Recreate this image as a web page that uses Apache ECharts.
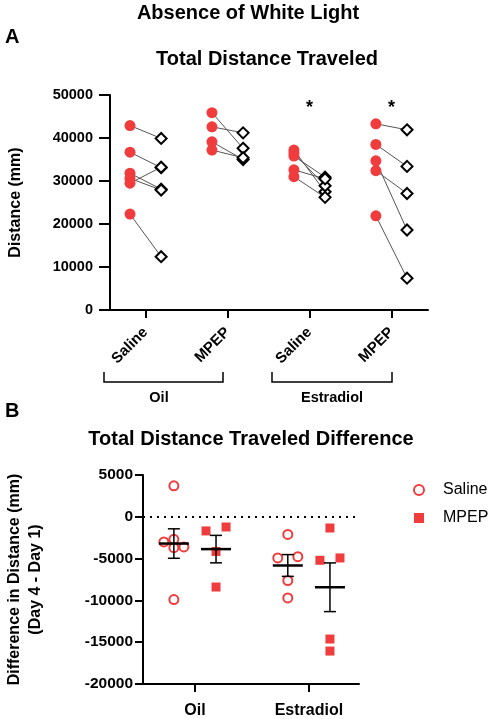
<!DOCTYPE html>
<html><head><meta charset="utf-8">
<script src="https://cdn.jsdelivr.net/npm/echarts@6/dist/echarts.min.js"></script>
<style>html,body{margin:0;padding:0;background:#fff}#c{width:496px;height:719px}</style>
</head><body><div id="c"></div>
<script>
// ---------- data ----------
const groupLabels = ['Saline', 'MPEP', 'Saline', 'MPEP'];
const treatments = ['Oil', 'Estradiol'];
const significance = ['', '', '*', '*'];
const yTicksTop = [0, 10000, 20000, 30000, 40000, 50000];
const yTicksBottom = [-20000, -15000, -10000, -5000, 0, 5000];

// Panel A: distance (mm), Day 1 (red dots) and Day 4 (diamonds), paired by index
const day1 = [
  [42900, 36700, 31800, 30600, 29500, 22300],
  [45900, 42600, 39100, 37200],
  [37200, 36500, 35800, 32600, 31000],
  [43300, 38500, 34700, 32400, 21900]
];
const day4 = [
  [39900, 33100, 28100, 27900, 33200, 12400],
  [37600, 41200, 35000, 35400],
  [27500, 28900, 30900, 30500, 26200],
  [41900, 33400, 18600, 27100, 7400]
];

// Panel B: difference (Day 4 - Day 1), per treatment
const diffSaline = [
  [-3000, -3600, -3700, -2700, 3700, -9900],
  [-2110, -4920, -4770, -7620, -9700]
];
const diffMPEP = [
  [-1690, -1220, -4150, -8400],
  [-1340, -5200, -4920, -14620, -16060]
];
// horizontal scatter jitter (category units)
const jitterSaline = [[-0.088, 0.088, 0, 0, 0, 0], [0, -0.088, 0.088, 0, 0]];
const jitterMPEP = [[-0.088, 0.088, 0, 0], [0, -0.088, 0.088, 0, 0]];

// ---------- styling ----------
const FONT = '"Liberation Sans", Arial, sans-serif';
const RED = '#f03c3c';
const PAIR_OFF = 0.19;
const GROUP_OFF = 0.185;

function meanSem(arr) {
  const n = arr.length;
  const m = arr.reduce((a, b) => a + b, 0) / n;
  const sd = Math.sqrt(arr.reduce((a, b) => a + (b - m) * (b - m), 0) / (n - 1));
  return [m, sd / Math.sqrt(n)];
}

const series = [];
// pair lines
day1.forEach((g, gi) => {
  g.forEach((v, k) => {
    series.push({
      type: 'line', xAxisIndex: 0, yAxisIndex: 0, silent: true, z: 1,
      symbol: 'none', animation: false,
      lineStyle: { color: '#555', width: 1 },
      data: [[gi - PAIR_OFF, v], [gi + PAIR_OFF, day4[gi][k]]]
    });
  });
});
series.push({
  name: 'Day 1', type: 'scatter', xAxisIndex: 0, yAxisIndex: 0, z: 3,
  symbol: 'circle', symbolSize: 11, itemStyle: { color: RED, opacity: 1 },
  data: day1.flatMap((g, gi) => g.map(v => [gi - PAIR_OFF, v]))
});
series.push({
  name: 'Day 4', type: 'scatter', xAxisIndex: 0, yAxisIndex: 0, z: 4,
  symbol: 'diamond', symbolSize: 11,
  itemStyle: { color: '#fff', borderColor: '#000', borderWidth: 2, opacity: 1 },
  data: day4.flatMap((g, gi) => g.map(v => [gi + PAIR_OFF, v]))
});
series.push({
  type: 'scatter', xAxisIndex: 0, yAxisIndex: 0, z: 5, silent: true,
  symbolSize: 1, itemStyle: { color: 'rgba(0,0,0,0)' },
  label: { show: true, position: 'inside', formatter: p => significance[p.dataIndex],
    fontFamily: FONT, fontSize: 18, fontWeight: 'bold', color: '#000', opacity: 1 },
  data: significance.map((s, i) => [i, 47000])
});

// Panel B
series.push({
  name: 'Saline', type: 'scatter', xAxisIndex: 1, yAxisIndex: 1, z: 3,
  symbol: 'circle', symbolSize: 9,
  itemStyle: { color: '#fff', borderColor: RED, borderWidth: 2, opacity: 1 },
  data: diffSaline.flatMap((g, gi) => g.map((v, k) => [gi - GROUP_OFF + jitterSaline[gi][k], v])),
  markLine: {
    silent: true, symbol: 'none', label: { show: false },
    lineStyle: { color: '#000', type: [2, 5], width: 2 },
    data: [{ yAxis: 0 }]
  }
});
series.push({
  name: 'MPEP', type: 'scatter', xAxisIndex: 1, yAxisIndex: 1, z: 3,
  symbol: 'rect', symbolSize: 9,
  itemStyle: { color: RED, opacity: 1 },
  data: diffMPEP.flatMap((g, gi) => g.map((v, k) => [gi + GROUP_OFF + jitterMPEP[gi][k], v]))
});
const statData = [];
diffSaline.forEach((g, gi) => { const [m, s] = meanSem(g); statData.push([gi - GROUP_OFF, m, s]); });
diffMPEP.forEach((g, gi) => { const [m, s] = meanSem(g); statData.push([gi + GROUP_OFF, m, s]); });
series.push({
  type: 'custom', xAxisIndex: 1, yAxisIndex: 1, z: 6, silent: true,
  encode: { x: 0, y: 1 },
  data: statData,
  renderItem: function (params, api) {
    const x = api.value(0), m = api.value(1), s = api.value(2);
    const c = api.coord([x, m]);
    const hi = api.coord([x, m + s]);
    const lo = api.coord([x, m - s]);
    const st = { stroke: '#000', lineWidth: 1.5 };
    return {
      type: 'group', children: [
        { type: 'line', shape: { x1: c[0], y1: hi[1], x2: c[0], y2: lo[1] }, style: st },
        { type: 'line', shape: { x1: c[0] - 6, y1: hi[1], x2: c[0] + 6, y2: hi[1] }, style: st },
        { type: 'line', shape: { x1: c[0] - 6, y1: lo[1], x2: c[0] + 6, y2: lo[1] }, style: st },
        { type: 'line', shape: { x1: c[0] - 15, y1: c[1], x2: c[0] + 15, y2: c[1] }, style: { stroke: '#000', lineWidth: 2.5 } }
      ]
    };
  }
});

const axisCommon = {
  axisLine: { show: true, onZero: false, lineStyle: { color: '#000', width: 2 } },
  splitLine: { show: false }
};
const plain = v => String(v);

const option = {
  animation: false,
  backgroundColor: '#fff',
  textStyle: { fontFamily: FONT },
  grid: [
    { left: 106, top: 95, width: 322, height: 215 },
    { left: 143, top: 475, width: 216, height: 213 }
  ],
  xAxis: [
    Object.assign({}, axisCommon, {
      type: 'value', gridIndex: 0, min: -0.434, max: 3.446,
      axisTick: { show: true, customValues: [0, 1, 2, 3], length: 8, lineStyle: { color: '#000', width: 2 } },
      axisLabel: { show: true, customValues: [0, 1, 2, 3], rotate: 45, margin: 20,
        formatter: v => groupLabels[Math.round(v)] || '',
        fontFamily: FONT, fontSize: 15, fontWeight: 'bold', color: '#000' }
    }),
    Object.assign({}, axisCommon, {
      type: 'value', gridIndex: 1, min: -0.456, max: 1.44,
      axisTick: { show: true, customValues: [0, 1], length: 8, lineStyle: { color: '#000', width: 2 } },
      axisLabel: { show: true, customValues: [0, 1], margin: 19,
        formatter: v => treatments[Math.round(v)] || '',
        fontFamily: FONT, fontSize: 16, fontWeight: 'bold', color: '#000' }
    })
  ],
  yAxis: [
    Object.assign({}, axisCommon, {
      type: 'value', gridIndex: 0, min: yTicksTop[0], max: yTicksTop[yTicksTop.length - 1], interval: 10000,
      axisTick: { show: true, length: 11, lineStyle: { color: '#000', width: 2 } },
      axisLabel: { margin: 17, formatter: plain, fontFamily: FONT, fontSize: 14.5, fontWeight: 'bold', color: '#000' },
      name: 'Distance (mm)', nameLocation: 'middle', nameRotate: 90, nameGap: 86,
      nameTextStyle: { fontFamily: FONT, fontSize: 16, fontWeight: 'bold', color: '#000' }
    }),
    Object.assign({}, axisCommon, {
      type: 'value', gridIndex: 1, min: yTicksBottom[0], max: yTicksBottom[yTicksBottom.length - 1], interval: 5000,
      axisTick: { show: true, length: 8, lineStyle: { color: '#000', width: 2 } },
      axisLabel: { margin: 10, formatter: plain, fontFamily: FONT, fontSize: 15.5, fontWeight: 'bold', color: '#000' },
      name: 'Difference in Distance (mm)\n(Day 4 - Day 1)', nameLocation: 'middle', nameRotate: 90, nameGap: 97,
      nameTextStyle: { fontFamily: FONT, fontSize: 16, fontWeight: 'bold', color: '#000', lineHeight: 21 }
    })
  ],
  legend: {
    orient: 'vertical', left: 408, top: 477, itemWidth: 10, itemHeight: 10, itemGap: 12,
    data: ['Saline', 'MPEP'],
    textStyle: { fontFamily: FONT, fontSize: 16, color: '#000', padding: [0, 0, 0, 14] }
  },
  graphic: [
    { type: 'text', left: 'center', top: 3, style: { text: 'Absence of White Light', font: 'bold 20px ' + FONT, fill: '#000' } },
    { type: 'text', left: 5, top: 27, style: { text: 'A', font: 'bold 20px ' + FONT, fill: '#000' } },
    { type: 'text', x: 267, y: 59, style: { text: 'Total Distance Traveled', font: 'bold 20px ' + FONT, fill: '#000', textAlign: 'center', textVerticalAlign: 'middle' } },
    { type: 'text', x: 5, y: 411, style: { text: 'B', font: 'bold 20px ' + FONT, fill: '#000', textVerticalAlign: 'middle' } },
    { type: 'text', x: 251, y: 439, style: { text: 'Total Distance Traveled Difference', font: 'bold 20px ' + FONT, fill: '#000', textAlign: 'center', textVerticalAlign: 'middle' } },
    { type: 'polyline', shape: { points: [[104, 372], [104, 382], [223, 382], [223, 372]] }, style: { stroke: '#000', lineWidth: 1.5, fill: null } },
    { type: 'polyline', shape: { points: [[272, 372], [272, 382], [392, 382], [392, 372]] }, style: { stroke: '#000', lineWidth: 1.5, fill: null } },
    { type: 'text', x: 159, y: 398, style: { text: treatments[0], font: 'bold 14.5px ' + FONT, fill: '#000', textAlign: 'center', textVerticalAlign: 'middle' } },
    { type: 'text', x: 332, y: 398, style: { text: treatments[1], font: 'bold 14.5px ' + FONT, fill: '#000', textAlign: 'center', textVerticalAlign: 'middle' } }
  ],
  series: series
};

const chart = echarts.init(document.getElementById('c'), null, { renderer: 'canvas' });
chart.setOption(option);
</script>
</body></html>
